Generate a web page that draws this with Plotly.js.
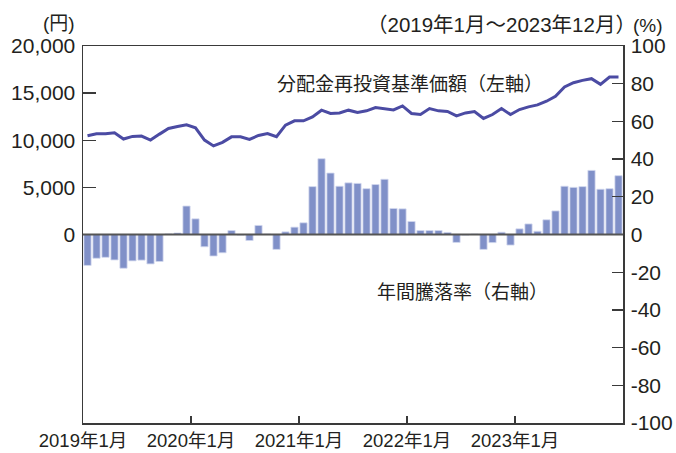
<!DOCTYPE html>
<html>
<head>
<meta charset="utf-8">
<script src="https://cdn.plot.ly/plotly-3.0.1.min.js"></script>
<style>html,body{margin:0;padding:0;background:#fff;}#chart{width:676px;height:453px;}</style>
</head>
<body>
<div id="chart"></div>
<script>
// Month index 0 = 2019年1月 ... 59 = 2023年12月
const months = Array.from({length: 60}, (_, i) => i);

// 分配金再投資基準価額 (円, left axis)
const navValues = [
  10480, 10690, 10690, 10790, 10130, 10410, 10450, 10020, 10650, 11250,
  11460, 11640, 11320, 10020, 9400, 9780, 10360, 10370, 10090, 10510,
  10710, 10370, 11600, 12060, 12060, 12480, 13190, 12840, 12900, 13190,
  12940, 13120, 13470, 13360, 13220, 13640, 12840, 12730, 13360, 13120,
  13050, 12590, 12900, 13050, 12310, 12730, 13360, 12730, 13260, 13540,
  13750, 14140, 14660, 15650, 16100, 16350, 16530, 15930, 16700, 16700
];

// 年間騰落率 (%, right axis)
const annualReturn = [
  -16.4, -12.6, -12.1, -13.5, -17.9, -14.0, -13.6, -15.6, -14.3, 0.3,
  0.8, 15.1, 8.3, -6.5, -11.4, -9.7, 2.1, -0.3, -3.2, 4.8,
  0.2, -7.9, 1.4, 3.9, 6.2, 25.4, 40.2, 32.6, 25.6, 27.4,
  27.1, 24.3, 26.5, 29.3, 13.8, 13.6, 6.9, 2.1, 2.1, 2.1,
  1.1, -4.2, -0.3, 0.2, -7.9, -4.3, 1.2, -5.6, 3.0, 5.6,
  1.7, 7.8, 12.5, 25.6, 25.0, 25.4, 34.0, 24.0, 24.3, 31.2
];

// x tick labels (at January boundaries)
const xTickPos = [-0.5, 11.5, 23.5, 35.5, 47.5];
const xTickText = ['2019年1月', '2020年1月', '2021年1月', '2022年1月', '2023年1月'];

// left axis ticks
const yLeftTicks = [0, 5000, 10000, 15000, 20000];
const yLeftText = ['0', '5,000', '10,000', '15,000', '20,000'];

// right axis ticks
const yRightTicks = [-100, -80, -60, -40, -20, 0, 20, 40, 60, 80, 100];
const yRightText = ['-100', '-80', '-60', '-40', '-20', '0', '20', '40', '60', '80', '100'];

const FONT = 'Liberation Sans, Arial, Noto Sans CJK JP, sans-serif';
const AXC = '#3a3a3a';
const TXT = '#231f20';

const traces = [
  {
    type: 'bar',
    x: months,
    y: annualReturn,
    yaxis: 'y2',
    width: 0.8,
    marker: {color: '#8090c8', line: {color: '#d2d8ef', width: 0.8}},
    hoverinfo: 'x+y'
  },
  {
    type: 'scatter',
    mode: 'lines',
    x: months,
    y: navValues,
    yaxis: 'y',
    line: {color: '#4b4ba3', width: 3}
  }
];

const layout = {
  width: 676,
  height: 453,
  margin: {l: 83, r: 53, t: 46, b: 30, pad: 0},
  paper_bgcolor: '#ffffff',
  plot_bgcolor: '#ffffff',
  showlegend: false,
  font: {family: FONT, color: TXT, size: 18},
  xaxis: {
    range: [-0.5, 59.5],
    tickmode: 'array',
    tickvals: xTickPos,
    ticktext: xTickText,
    ticks: 'inside',
    ticklen: 7,
    tickwidth: 1.3,
    tickcolor: AXC,
    showline: true,
    linecolor: AXC,
    linewidth: 1.5,
    mirror: true,
    showgrid: false,
    zeroline: false,
    tickfont: {size: 18.5, family: FONT, color: TXT},
    fixedrange: true
  },
  yaxis: {
    range: [-20000, 20000],
    tickmode: 'array',
    tickvals: yLeftTicks,
    ticktext: yLeftText,
    ticks: 'inside',
    ticklen: 13,
    tickwidth: 1.3,
    tickcolor: AXC,
    showline: true,
    linecolor: AXC,
    linewidth: 1.5,
    showgrid: false,
    zeroline: false,
    tickfont: {size: 21, family: FONT, color: TXT},
    ticklabelstandoff: 2
  },
  yaxis2: {
    range: [-100, 100],
    overlaying: 'y',
    side: 'right',
    tickmode: 'array',
    tickvals: yRightTicks,
    ticktext: yRightText,
    ticks: 'inside',
    ticklen: 11,
    tickwidth: 1.3,
    tickcolor: AXC,
    showline: true,
    linecolor: AXC,
    linewidth: 1.5,
    showgrid: false,
    zeroline: false,
    tickfont: {size: 21, family: FONT, color: TXT},
    ticklabelstandoff: 2
  },
  shapes: [
    {type: 'line', xref: 'paper', x0: 0, x1: 1, yref: 'y2', y0: 0, y1: 0,
     line: {color: '#555555', width: 2}, layer: 'above'}
  ],
  annotations: [
    {text: '(円)', xref: 'paper', yref: 'paper', x: -0.012, y: 1.06,
     xanchor: 'right', yanchor: 'middle', showarrow: false,
     font: {size: 19, family: FONT, color: TXT}},
    {text: '（2019年1月～2023年12月）', xref: 'paper', yref: 'paper', x: 1.027, y: 1.0575,
     xanchor: 'right', yanchor: 'middle', showarrow: false,
     font: {size: 20.5, family: FONT, color: TXT}},
    {text: '(%)', xref: 'paper', yref: 'paper', x: 1.014, y: 1.054,
     xanchor: 'left', yanchor: 'middle', showarrow: false,
     font: {size: 19, family: FONT, color: TXT}},
    {text: '分配金再投資基準価額（左軸）', xref: 'paper', yref: 'paper', x: 0.355, y: 0.8967,
     xanchor: 'left', yanchor: 'middle', showarrow: false,
     font: {size: 19, family: FONT, color: TXT}},
    {text: '年間騰落率（右軸）', xref: 'paper', yref: 'paper', x: 0.54, y: 0.3457,
     xanchor: 'left', yanchor: 'middle', showarrow: false,
     font: {size: 19, family: FONT, color: TXT}}
  ]
};

Plotly.newPlot('chart', traces, layout, {displayModeBar: false, staticPlot: true});
</script>
</body>
</html>
